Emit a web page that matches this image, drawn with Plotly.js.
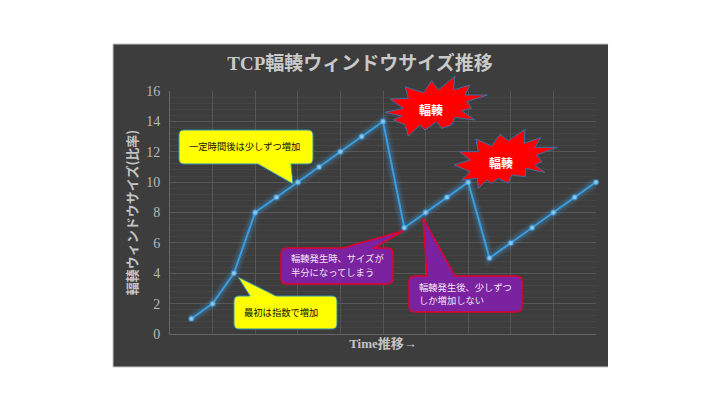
<!DOCTYPE html>
<html><head><meta charset="utf-8">
<script src="https://cdn.plot.ly/plotly-3.0.1.min.js"></script>
<style>html,body{margin:0;padding:0;background:#fff}#c{width:720px;height:410px}</style>
</head><body><div id="c"></div>
<script>
const timeSteps=[1,2,3,4,5,6,7,8,9,10,11,12,13,14,15,16,17,18,19,20];
const windowSizes=[1,2,4,8,9,10,11,12,13,14,7,8,9,10,5,6,7,8,9,10];
const chartTitle='TCP輻輳ウィンドウサイズ推移';
const yTitle='輻輳ウィンドウサイズ(比率)';
const xTitle='Time推移→';

const W=720,H=410,L=170,R=596,T=91,B=334;
const px=x=>((x-L)/(R-L)).toFixed(4), py=y=>((B-y)/(B-T)).toFixed(4);
const P=(x,y)=>px(x)+','+py(y);
function callout(x0,y0,x1,y1,tip,b0,b1,r,below){
  const top=below?'':' L'+P(b0,y0)+' L'+P(tip[0],tip[1])+' L'+P(b1,y0);
  const bottom=below?' L'+P(b1,y1)+' L'+P(tip[0],tip[1])+' L'+P(b0,y1):'';
  return 'M'+P(x0+r,y0)+top+' L'+P(x1-r,y0)+
   ' Q'+P(x1,y0)+' '+P(x1,y0+r)+' L'+P(x1,y1-r)+' Q'+P(x1,y1)+' '+P(x1-r,y1)+bottom+
   ' L'+P(x0+r,y1)+' Q'+P(x0,y1)+' '+P(x0,y1-r)+' L'+P(x0,y0+r)+' Q'+P(x0,y0)+' '+P(x0+r,y0)+' Z';
}
function poly(pts,ox,oy){
  return pts.map((p,i)=>(i?'L':'M')+P(ox+p[0]/3,oy+p[1]/3)).join(' ')+' Z';
}
const burstA=[[255,108],[250,150],[300,135],[285,165],[352,165],[290,185],[305,205],[275,212],[315,240],[255,232],[245,255],[215,265],[200,245],[165,270],[150,255],[115,288],[105,255],[70,240],[95,228],[45,217],[100,205],[60,177],[115,175],[105,140],[160,158],[185,122],[205,150]];
const burstB=[[465,268],[462,310],[512,293],[495,322],[562,322],[500,345],[515,365],[495,375],[525,398],[468,385],[465,410],[425,405],[415,430],[385,415],[365,430],[350,420],[325,445],[322,415],[275,420],[300,395],[252,375],[300,360],[268,335],[325,335],[318,297],[365,318],[390,283],[415,302]];

const yellow={fillcolor:'#ffff00',line:{color:'#2f8fb5',width:1}};
const purple={fillcolor:'#7b22a0',line:{color:'#e4002b',width:1.5}};
const red={fillcolor:'#ff0000',line:{color:'#3b6fa8',width:1}};
const mk=(path,st)=>Object.assign({type:'path',xref:'paper',yref:'paper',path:path,layer:'above'},st);

const shapes=[
 {type:'rect',xref:'paper',yref:'paper',x0:px(113),x1:px(608),y0:py(367),y1:py(44),fillcolor:'#3d3d3d',line:{width:0},layer:'below'},
 {type:'path',xref:'paper',yref:'paper',path:'M'+P(113,367)+' L'+P(113,44)+' L'+P(608,44),line:{color:'#c4c4c4',width:1},layer:'below'},
 {type:'path',xref:'paper',yref:'paper',path:'M'+P(113,367)+' L'+P(608,367),line:{color:'#c4c4c4',width:1},layer:'below'},
 mk(poly(burstA,370,40),red),
 mk(poly(burstB,370,40),red),
 mk(callout(179,130,313,164,[293,184],258,291,5,true),yellow),
 mk(callout(234,296,337,329,[238,277],250,276,5),yellow),
 mk(callout(281,248,393,284,[403,231],343,374,6),purple),
 mk(callout(409,276,522,312,[423,218],427,455,6),purple)
];
const cjk='"Noto Sans CJK JP","Noto Sans",sans-serif';
const note=(t,x,y,color,size,anchor,bold)=>({text:bold?'<b>'+t+'</b>':t,xref:'paper',yref:'paper',x:+px(x),y:+py(y),xanchor:anchor,yanchor:'middle',showarrow:false,font:{family:cjk,size:size,color:color}});
const annotations=[
 note('輻輳',431,109,'#ffffff',12,'center',true),
 note('輻輳',501,162,'#ffffff',12,'center',true),
 note('一定時間後は少しずつ増加',187,146,'#111111',9.3,'left'),
 note('最初は指数で増加',242,312,'#111111',9.3,'left'),
 note('輻輳発生時、サイズが',289,258,'#f0e4f4',9.3,'left'),
 note('半分になってしまう',289,272,'#f0e4f4',9.3,'left'),
 note('輻輳発生後、少しずつ',417,287,'#f0e4f4',9.3,'left'),
 note('しか増加しない',417,300,'#f0e4f4',9.3,'left')
];
const glow=(w,a)=>({x:timeSteps,y:windowSizes,type:'scatter',mode:'lines',hoverinfo:'skip',showlegend:false,cliponaxis:false,line:{color:'rgba(70,165,235,'+a+')',width:w}});
const data=[
 glow(12,0.06),glow(9,0.09),glow(6,0.15),
 {x:timeSteps,y:windowSizes,type:'scatter',mode:'lines+markers',showlegend:false,cliponaxis:false,
  line:{color:'#3a9ddf',width:2},
  marker:{size:4.5,color:'#8ecdf0',line:{color:'rgba(70,165,235,0.45)',width:2}}}
];
const layout={
 width:W,height:H,autosize:false,showlegend:false,
 margin:{l:L,r:W-R,t:T,b:H-B,pad:0},
 paper_bgcolor:'#ffffff',plot_bgcolor:'rgba(0,0,0,0)',
 title:{text:'<b>'+chartTitle+'</b>',x:360/W,xanchor:'center',y:1-63/H,yanchor:'middle',font:{family:'"Liberation Serif","Noto Sans CJK JP",serif',size:19,color:'#c9c9c9'}},
 xaxis:{range:[0,20],tick0:0,dtick:2,showticklabels:false,ticks:'',showgrid:true,gridcolor:'#555555',gridwidth:1,zeroline:false,
  showline:true,linecolor:'#666666',linewidth:1,mirror:false,
  title:{text:'<b>'+xTitle+'</b>',standoff:4,font:{family:'"Liberation Serif","Noto Sans CJK JP",serif',size:13,color:'#c4c4c4'}}},
 yaxis:{range:[0,16],tick0:0,dtick:2,ticks:'',ticklabelstandoff:6,showgrid:true,gridcolor:'#575757',gridwidth:1,zeroline:false,
  minor:{dtick:0.4,showgrid:true,gridcolor:'#454545',gridwidth:1},
  showline:true,linecolor:'#666666',linewidth:1,
  tickfont:{family:'"Liberation Serif",serif',size:14,color:'#b8b8b8'},
  title:{text:'<b>'+yTitle+'</b>',standoff:5,font:{family:'"Noto Sans CJK JP",sans-serif',size:13,color:'#c4c4c4'}}},
 shapes:shapes,annotations:annotations
};
Plotly.newPlot('c',data,layout,{displayModeBar:false,staticPlot:true});
</script></body></html>
